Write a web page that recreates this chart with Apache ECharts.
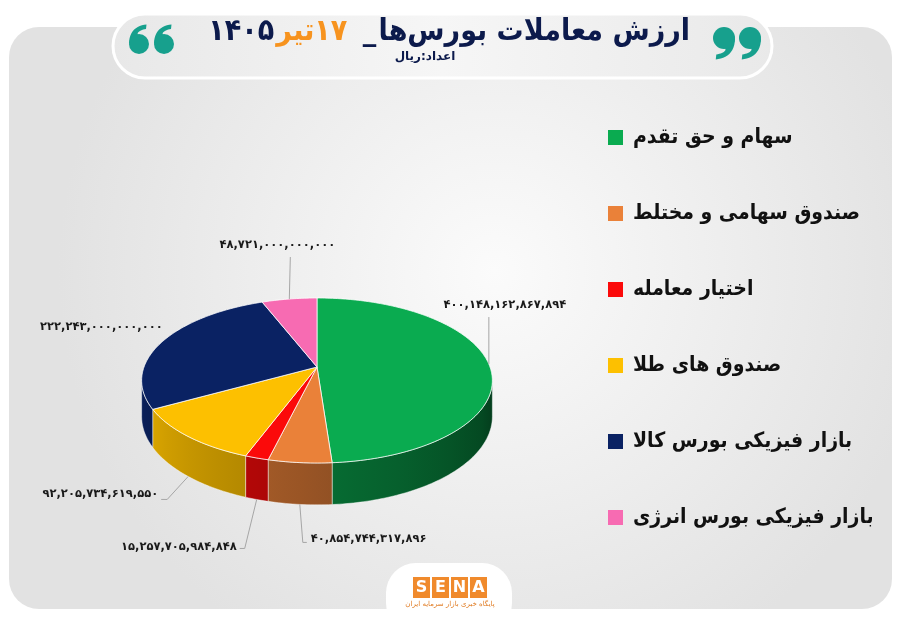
<!DOCTYPE html>
<html><head><meta charset="utf-8">
<script src="https://cdn.jsdelivr.net/npm/echarts@6/dist/echarts.min.js"></script>
<style>html,body{margin:0;padding:0;background:#fff}#c{width:900px;height:623px}</style>
</head><body><div id="c"></div>
<script>
// ---------- data ----------
const categories = ['سهام و حق تقدم','صندوق سهامی و مختلط','اختیار معامله','صندوق های طلا','بازار فیزیکی بورس کالا','بازار فیزیکی بورس انرژی'];
const values = [400148162867894, 40854744317896, 15257705984848, 92205734619550, 222243000000000, 48721000000000];
const titleMain = 'ارزش معاملات بورس\u200cها';
const titleDay = '۱۷';
const titleMonth = 'تیر';
const titleYear = '۱۴۰۵';
const subtitle = 'اعداد:ریال';

// ---------- styles ----------
const topColors = ['#0aab50','#ea8139','#fb0a0a','#fdc000','#0a2263','#f76bb2'];
const FONT = 'DejaVu Sans';
const FONT_C = "'DejaVu Sans Condensed', 'DejaVu Sans'";
const G = {X0:317, Y0:367, A:173, B:80.3, p:0.1636, H:35};
const labelLayout = [
  {d:[0,-47], h:0,  t:[16,-12], align:'center'},
  {d:[3,38],  h:4,  t:[4,-3],   align:'left'},
  {d:[-12,49],h:-5, t:[-3,-1],  align:'right'},
  {d:[-21,23],h:-6, t:[-3,-5],  align:'right'},
  {d:[0,0],   h:0,  t:[0,-14],  align:'right'},
  {d:[1,-42], h:0,  t:[-13,-12],align:'center'}
];

const faDigits = '۰۱۲۳۴۵۶۷۸۹';
function faNum(v){ return String(v).replace(/\B(?=(\d{3})+(?!\d))/g, ',').replace(/\d/g, d => faDigits[d]); }

const total = values.reduce((a,b)=>a+b,0);
const cum = []; values.reduce((a,b,i)=>{cum[i]=a; return a+b;},0);

function proj(th, drop){
  const s = 1/(1+G.p*Math.cos(th));
  return [G.X0 + G.A*Math.sin(th)*s, G.Y0 - G.B*Math.cos(th)*s + (drop ? G.H*s : 0)];
}
const tL = Math.acos(-G.p), tR = 2*Math.PI - tL;
function shade(hex, f){
  const n = parseInt(hex.slice(1),16);
  const r = Math.round(((n>>16)&255)*f), g = Math.round(((n>>8)&255)*f), b = Math.round((n&255)*f);
  return 'rgb('+r+','+g+','+b+')';
}
function shadeF(th){ return 0.36 + 0.56*(th - tL)/(tR - tL); }
function arc(a0, a1, drop){
  const pts = []; const n = Math.max(2, Math.ceil(Math.abs(a1-a0)/(Math.PI/180)));
  for (let i=0;i<=n;i++) pts.push(proj(a0 + (a1-a0)*i/n, drop));
  return pts;
}

function renderItem(params, api){
  const i = params.dataIndex;
  const v = api.value(0);
  const a0 = cum[i]/total*2*Math.PI, a1 = a0 + v/total*2*Math.PI;
  const col = topColors[i];
  const children = [];
  const topPts = [[G.X0, G.Y0]].concat(arc(a0, a1, false));
  children.push({type:'polygon', z2:10, shape:{points:topPts},
    style:{fill:col, stroke:'rgba(255,255,255,0.75)', lineWidth:1, lineJoin:'round'}});
  const lo = Math.max(a0, tL), hi = Math.min(a1, tR);
  if (lo < hi){
    const pts = arc(lo, hi, false).concat(arc(hi, lo, true));
    const xA = proj(hi,false)[0], xB = proj(lo,false)[0];
    const stops = [];
    for (let k=0;k<=4;k++){
      const th = lo + (hi-lo)*k/4;
      const x = proj(th,false)[0];
      stops.push({offset: Math.min(1,Math.max(0,(x - xA)/Math.max(1,(xB - xA)))), color: shade(col, shadeF(th))});
    }
    stops.sort((a,b)=>a.offset-b.offset);
    children.push({type:'polygon', z2:1, shape:{points:pts},
      style:{fill:{type:'linear', x:xA, y:0, x2:xB, y2:0, global:true, colorStops:stops},
             stroke:'rgba(255,255,255,0.55)', lineWidth:0.8}});
  }
  const mid = (a0+a1)/2;
  const front = mid > tL && mid < tR;
  const anc = proj(mid, front);
  const L = labelLayout[i];
  const elbow = [anc[0]+L.d[0], anc[1]+L.d[1]];
  const end = [elbow[0]+L.h, elbow[1]];
  if (L.d[0] || L.d[1]){
    children.push({type:'polyline', z2:15, shape:{points:[anc, elbow, end]},
      style:{stroke:'#a6a6a6', lineWidth:1, fill:null}});
  }
  children.push({type:'text', z2:20, x:end[0]+L.t[0], y:end[1]+L.t[1],
    style:{text:faNum(v), fill:'#1a1a1a', fontFamily:FONT, fontWeight:'bold', fontSize:11.5,
           align:L.align, verticalAlign:'middle'}});
  return {type:'group', children};
}

const chart = echarts.init(document.getElementById('c'), null, {renderer:'canvas'});

function bez(p0,p1,p2,p3,n){
  const out=[];
  for(let i=0;i<=n;i++){const t=i/n,u=1-t;
    out.push([u*u*u*p0[0]+3*u*u*t*p1[0]+3*u*t*t*p2[0]+t*t*t*p3[0], u*u*u*p0[1]+3*u*u*t*p1[1]+3*u*t*t*p2[1]+t*t*t*p3[1]]);}
  return out;
}
function quoteTail(cx, cy, r, flip){
  const sg = flip ? -1 : 1;
  const P = (dx,dy)=> [cx+sg*dx*r, cy+sg*dy*r];
  return bez(P(-1,0),P(-1,-1.35),P(-0.2,-1.85),P(0.75,-1.95),12)
    .concat(bez(P(0.7,-1.5),P(0.1,-1.4),P(-0.25,-1.15),P(-0.1,-0.95),12));
}
const teal = '#17a08d';
function quoteEls(cx, cy, r, flip){
  return [
    {type:'polygon', z:-8, shape:{points:quoteTail(cx,cy,r,flip)}, style:{fill:teal}},
    {type:'circle', z:-8, shape:{cx:cx, cy:cy, r:r}, style:{fill:teal}}
  ];
}

const option = {
  backgroundColor:'#ffffff',
  animation:false,
  legend:{
    orient:'vertical', left:603, top:122, icon:'rect', itemWidth:15, itemHeight:15, itemGap:55,
    data:categories, selectedMode:false,
    textStyle:{fontFamily:FONT_C, fontWeight:'bold', fontSize:21, color:'#111', padding:[0,0,0,5]}
  },
  graphic:[
    {type:'rect', z:-10, shape:{x:9, y:27, width:883, height:582, r:30},
      style:{fill:{type:'radial', x:0.55, y:0.42, r:0.75, colorStops:[{offset:0,color:'#fbfbfb'},{offset:1,color:'#e2e2e2'}]}}},
    {type:'rect', z:-9, shape:{x:113, y:14, width:659, height:64, r:32},
      style:{fill:{type:'linear', x:0, y:0, x2:1, y2:0, colorStops:[{offset:0,color:'#e8e8e8'},{offset:0.5,color:'#f6f6f6'},{offset:1,color:'#e9e9e9'}]},
             stroke:'#ffffff', lineWidth:3}}
  ].concat(quoteEls(139,44,10,false), quoteEls(164,44,10,false), quoteEls(724,38,11,true), quoteEls(750,38,11,true), [
    {type:'text', z:-7, x:690, y:32, style:{
      text:'{n|'+titleYear+'}{s| }{o|'+titleMonth+'}{o|'+titleDay+'}{w|  }{n|_}{s| }{n|'+titleMain+'}',
      align:'right', verticalAlign:'middle',
      rich:{
        n:{fill:'#0c1a4c', fontFamily:FONT_C, fontWeight:'bold', fontSize:30},
        o:{fill:'#f7931e', fontFamily:FONT_C, fontWeight:'bold', fontSize:30},
        s:{fontSize:8}, w:{fontSize:28}
      }}},
    {type:'text', z:-7, x:425, y:57, style:{text:subtitle, fill:'#0c1a4c', fontFamily:FONT, fontWeight:'bold', fontSize:12, align:'center', verticalAlign:'middle'}},
    {type:'rect', z:-6, shape:{x:386, y:563, width:126, height:70, r:30}, style:{fill:'#ffffff'}}
  ], ['S','E','N','A'].map((ch,k)=>({type:'rect', z:-5, shape:{x:413+k*19, y:577, width:17, height:21}, style:{fill:'#f08a2c'}})),
     ['S','E','N','A'].map((ch,k)=>({type:'text', z:-4, x:421.5+k*19, y:588, style:{text:ch, fill:'#fff', fontFamily:FONT, fontWeight:'bold', fontSize:16, align:'center', verticalAlign:'middle'}})),
  [
    {type:'text', z:-5, x:450, y:604, style:{text:'پایگاه خبری بازار سرمایه ایران', fill:'#e07b22', fontFamily:FONT, fontSize:7, align:'center', verticalAlign:'middle'}}
  ]),
  series:[
    {type:'custom', coordinateSystem:'none', name:'pie3d', data:values, renderItem:renderItem, silent:true},
    {type:'pie', name:'legendProxy', center:[-200,-200], radius:[0,1], silent:true,
      label:{show:false}, labelLine:{show:false},
      data:categories.map((c,i)=>({name:c, value:values[i], itemStyle:{color:topColors[i]}}))}
  ]
};
chart.setOption(option);
</script></body></html>
